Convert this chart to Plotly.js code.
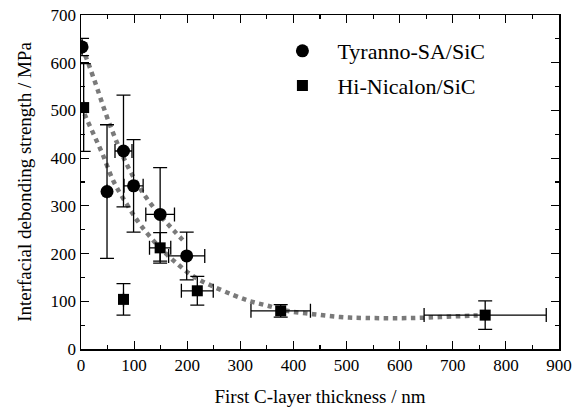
<!DOCTYPE html>
<html><head><meta charset="utf-8">
<script src="https://cdn.plot.ly/plotly-3.0.1.min.js"></script>
<style>html,body{margin:0;padding:0;background:#fff}</style>
</head><body><div id="chart" style="width:586px;height:410px"></div>
<script>
// Tyranno-SA/SiC
var tyX = [2, 49, 80, 99, 149, 199];
var tyY = [633, 330, 415, 342, 282, 195];
var tyYErr = [18, 140, 117, 97, 98, 50];
var tyXErr = [0, 0, 16, 18, 27, 34];
// Hi-Nicalon/SiC
var hiX = [5, 80, 149, 219, 376, 761];
var hiY = [506, 104, 212, 122, 80, 71];
var hiYErr = [92, 33, 32, 30, 13, 30];
var hiXErr = [0, 0, 20, 30, 56, 115];
// dotted guide curves
var fitTyX = [0, 8, 24, 55, 87, 118, 149, 175, 197];
var fitTyY = [632, 615, 567, 468, 385, 325, 280, 248, 222];
var fitHiX = [0, 10, 25, 40, 61, 87, 112, 149, 184, 212, 243, 287, 319, 350, 388, 437, 488, 538, 625, 676, 738, 760];
var fitHiY = [510, 484, 447, 410, 352, 302, 260, 212, 176, 152, 134, 113, 100, 91, 80, 73, 67, 65, 65, 67, 70, 71];

var serif = "Liberation Serif, Times New Roman, serif";
var errStyle = {type: 'data', thickness: 1.3, width: 7, color: '#000'};

var traces = [
  {x: fitTyX, y: fitTyY, mode: 'lines', line: {color: '#7a7a7a', width: 4.5, dash: 'dot', shape: 'spline'}, showlegend: false, hoverinfo: 'skip'},
  {x: fitHiX, y: fitHiY, mode: 'lines', line: {color: '#7a7a7a', width: 4.5, dash: 'dot', shape: 'spline'}, showlegend: false, hoverinfo: 'skip'},
  {x: tyX, y: tyY, mode: 'markers', name: 'Tyranno-SA/SiC', legendgroup: 'a',
   marker: {symbol: 'circle', size: 13, color: '#000'},
   error_y: Object.assign({array: tyYErr}, errStyle),
   error_x: Object.assign({array: tyXErr}, errStyle)},
  {x: hiX, y: hiY, mode: 'markers', name: 'Hi-Nicalon/SiC', legendgroup: 'b',
   marker: {symbol: 'square', size: 11, color: '#000'},
   error_y: Object.assign({array: hiYErr}, errStyle),
   error_x: Object.assign({array: hiXErr}, errStyle)}
];

var axisCommon = {
  showline: true, linecolor: '#000', linewidth: 1.5, mirror: 'allticks',
  ticks: 'inside', ticklen: 8, tickwidth: 1.2, tickcolor: '#000',
  showgrid: false, zeroline: false,
  tickfont: {family: serif, size: 17, color: '#000'}
};

var layout = {
  width: 586, height: 410,
  margin: {l: 81, r: 27, t: 15, b: 61},
  paper_bgcolor: '#fff', plot_bgcolor: '#fff',
  showlegend: true,
  legend: {x: 0.39, y: 0.955, xanchor: 'left', yanchor: 'top', itemwidth: 60,
           font: {family: serif, size: 22, color: '#000'}, bgcolor: 'rgba(0,0,0,0)',
           tracegroupgap: 3},
  xaxis: Object.assign({}, axisCommon, {
    range: [0, 900], dtick: 100, tick0: 0,
    minor: {dtick: 50, ticks: 'inside', ticklen: 4, tickwidth: 1.2, tickcolor: '#000'},
    title: {text: 'First C-layer thickness / nm', font: {family: serif, size: 19, color: '#000'}, standoff: 16}
  }),
  yaxis: Object.assign({}, axisCommon, {
    range: [0, 700], dtick: 100, tick0: 0,
    minor: {dtick: 50, ticks: 'inside', ticklen: 4, tickwidth: 1.2, tickcolor: '#000'},
    title: {text: 'Interfacial debonding strength / MPa', font: {family: serif, size: 19, color: '#000'}, standoff: 14}
  })
};

Plotly.newPlot('chart', traces, layout, {displayModeBar: false, staticPlot: true});
</script></body></html>
